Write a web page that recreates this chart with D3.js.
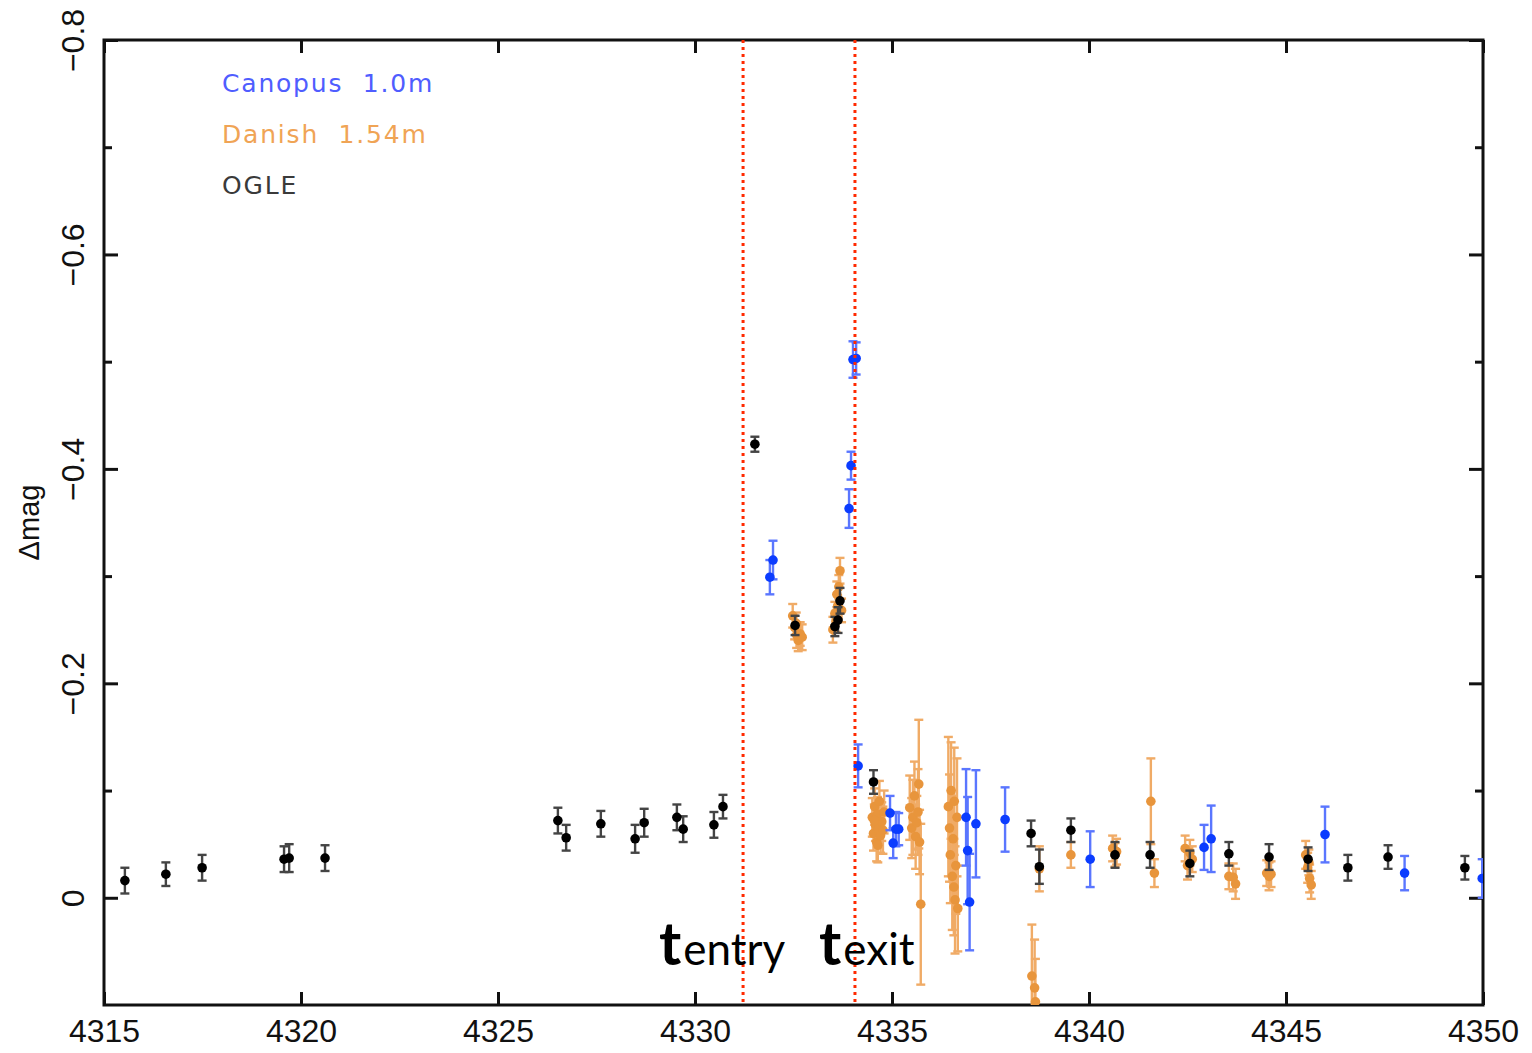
<!DOCTYPE html>
<html>
<head>
<meta charset="utf-8">
<script src="https://cdn.jsdelivr.net/npm/d3@7"></script>
<style>
  body { margin: 0; background: #fff; }
  svg { display: block; }
</style>
</head>
<body>
<svg id="chart" width="1532" height="1053"></svg>
<script>
// [day, delta mag, error]
var ogle = [
    [4315.53,-0.016,0.012],[4316.57,-0.022,0.011],[4317.49,-0.028,0.012],[4319.57,-0.036,0.012],
    [4319.70,-0.037,0.013],[4320.61,-0.037,0.012],[4326.52,-0.072,0.012],[4326.73,-0.056,0.012],
    [4327.61,-0.069,0.012],[4328.48,-0.055,0.013],[4328.71,-0.070,0.013],[4329.54,-0.075,0.012],
    [4329.70,-0.064,0.012],[4330.48,-0.068,0.012],[4330.71,-0.085,0.011],[4331.52,-0.423,0.007],
    [4332.54,-0.254,0.009],[4333.55,-0.253,0.009],[4333.63,-0.259,0.012],[4333.68,-0.277,0.012],
    [4334.53,-0.108,0.011],[4338.53,-0.060,0.012],[4338.74,-0.029,0.016],[4339.54,-0.063,0.011],
    [4340.66,-0.040,0.012],[4341.55,-0.040,0.012],[4342.56,-0.032,0.012],[4343.55,-0.041,0.011],
    [4344.57,-0.038,0.012],[4345.56,-0.036,0.011],[4346.57,-0.028,0.012],[4347.59,-0.038,0.011],
    [4349.54,-0.028,0.011]
];
var canopus = [
    [4331.90,-0.299,0.016],[4331.98,-0.315,0.018],[4334.01,-0.502,0.017],[4334.09,-0.503,0.015],
    [4333.96,-0.403,0.013],[4333.91,-0.363,0.018],[4334.14,-0.123,0.020],[4334.95,-0.079,0.016],
    [4335.03,-0.051,0.014],[4335.10,-0.064,0.016],[4335.17,-0.064,0.015],[4336.88,-0.075,0.045],
    [4336.92,-0.044,0.050],[4336.97,0.004,0.045],[4337.13,-0.069,0.050],[4337.87,-0.073,0.030],
    [4340.03,-0.036,0.026],[4342.92,-0.047,0.021],[4343.10,-0.055,0.031],[4345.99,-0.059,0.026],
    [4348.01,-0.023,0.016],[4349.98,-0.018,0.018]
];
var danish = [
    [4332.48,-0.263,0.011],[4332.53,-0.252,0.011],[4332.58,-0.245,0.012],[4332.62,-0.240,0.010],
    [4332.67,-0.246,0.011],[4332.72,-0.243,0.012],[4332.57,-0.256,0.010],
    [4333.50,-0.250,0.012],[4333.55,-0.265,0.011],[4333.60,-0.283,0.012],[4333.65,-0.290,0.011],
    [4333.68,-0.305,0.012],[4333.62,-0.272,0.010],[4333.72,-0.268,0.011],[4333.58,-0.258,0.010],
    [4334.50,-0.075,0.018],[4334.53,-0.060,0.016],[4334.56,-0.085,0.017],[4334.58,-0.068,0.015],
    [4334.61,-0.052,0.018],[4334.63,-0.078,0.016],[4334.66,-0.064,0.017],[4334.68,-0.090,0.019],
    [4334.71,-0.058,0.016],[4334.74,-0.071,0.018],[4334.77,-0.063,0.022],[4334.80,-0.080,0.020],
    [4334.55,-0.072,0.015],[4334.64,-0.049,0.016],
    [4335.45,-0.084,0.030],[4335.50,-0.065,0.028],[4335.53,-0.075,0.035],[4335.57,-0.095,0.032],
    [4335.60,-0.057,0.030],[4335.63,-0.070,0.025],[4335.68,-0.106,0.060],[4335.70,-0.052,0.030],
    [4335.73,0.006,0.075],[4335.66,-0.080,0.040],
    [4336.43,-0.085,0.065],[4336.46,-0.065,0.050],[4336.48,-0.040,0.045],[4336.50,-0.100,0.045],
    [4336.53,-0.020,0.050],[4336.55,-0.055,0.040],[4336.57,-0.010,0.045],[4336.60,0.002,0.050],
    [4336.62,-0.030,0.045],[4336.65,-0.075,0.055],[4336.67,0.010,0.040],[4336.58,-0.090,0.050],
    [4338.55,0.073,0.048],[4338.62,0.084,0.045],[4338.64,0.097,0.040],[4338.74,-0.027,0.021],
    [4339.54,-0.040,0.012],[4340.60,-0.046,0.012],[4340.66,-0.040,0.011],[4340.70,-0.043,0.012],
    [4341.57,-0.090,0.040],[4341.66,-0.023,0.013],
    [4342.44,-0.046,0.012],[4342.50,-0.030,0.013],[4342.56,-0.042,0.012],[4342.62,-0.036,0.012],
    [4343.55,-0.020,0.012],[4343.66,-0.019,0.013],[4343.72,-0.013,0.014],
    [4344.51,-0.023,0.012],[4344.57,-0.020,0.013],[4344.62,-0.022,0.012],
    [4345.50,-0.040,0.013],[4345.55,-0.028,0.014],[4345.60,-0.018,0.013],[4345.64,-0.012,0.013],
    [4345.58,-0.033,0.012]
];
var x_ticks = [4315, 4320, 4325, 4330, 4335, 4340, 4345, 4350];
var y_major_ticks = [-0.8, -0.6, -0.4, -0.2, 0];
var y_minor_ticks = [-0.7, -0.5, -0.3, -0.1];
var legend_labels = ['Canopus  1.0m', 'Danish  1.54m', 'OGLE'];
var t_entry = 4331.22;
var t_exit = 4334.06;

var frame = {left: 104, right: 1483, top: 40, bottom: 1005};

var svg = d3.select('#chart');
var x_scale = d3.scaleLinear().domain([4315, 4350]).range([frame.left, frame.right]);
var y_scale = d3.scaleLinear().domain([-0.8, 0.1]).range([frame.top, frame.bottom]);

draw_axes();
var clip = svg.append('clipPath').attr('id', 'plot-clip');
clip.append('rect').attr('x', frame.left).attr('y', frame.top)
    .attr('width', frame.right - frame.left).attr('height', frame.bottom - frame.top);
var plot = svg.append('g').attr('clip-path', 'url(#plot-clip)');

draw_series(plot, danish, '#f0ab66', '#e8953c', 4.8);
draw_series(plot, canopus, '#5a76ff', '#0b3cff', 4.8);
draw_series(plot, ogle, '#444', '#000', 4.8);
draw_markers(plot);
draw_legend();

function draw_axes(){
    var ax = svg.append('g').attr('class', 'axes');
    var bottom = ax.append('g').attr('transform', 'translate(0,' + frame.bottom + ')')
        .call(d3.axisBottom(x_scale).tickValues(x_ticks).tickSize(-13).tickPadding(14).tickFormat(d3.format('d')));
    var top = ax.append('g').attr('transform', 'translate(0,' + frame.top + ')')
        .call(d3.axisTop(x_scale).tickValues(x_ticks).tickSize(-13).tickFormat(''));
    var left = ax.append('g').attr('transform', 'translate(' + frame.left + ',0)')
        .call(d3.axisLeft(y_scale).tickValues(y_major_ticks).tickSize(-14)
              .tickFormat(function(t){ return t === 0 ? '0' : d3.format('.1f')(t).replace('-', '\u2212'); }));
    var left_minor = ax.append('g').attr('transform', 'translate(' + frame.left + ',0)')
        .call(d3.axisLeft(y_scale).tickValues(y_minor_ticks).tickSize(-8).tickFormat(''));
    var right = ax.append('g').attr('transform', 'translate(' + frame.right + ',0)')
        .call(d3.axisRight(y_scale).tickValues(y_major_ticks).tickSize(-14).tickFormat(''));
    var right_minor = ax.append('g').attr('transform', 'translate(' + frame.right + ',0)')
        .call(d3.axisRight(y_scale).tickValues(y_minor_ticks).tickSize(-8).tickFormat(''));

    ax.selectAll('.domain').remove();
    ax.selectAll('.tick line').attr('stroke', '#111').attr('stroke-width', 3);
    ax.selectAll('text').attr('fill', '#111')
        .style('font-family', '"Liberation Sans Narrow", "Liberation Sans", Arial, sans-serif')
        .style('font-size', '32px');
    bottom.selectAll('text').attr('dy', '0.72em');
    left.selectAll('text')
        .attr('transform', 'rotate(-90)')
        .attr('x', 0).attr('y', -20).attr('dy', 0)
        .style('text-anchor', 'middle')
        .style('font-family', '"Liberation Sans", Arial, sans-serif');

    ax.append('rect')
        .attr('x', frame.left).attr('y', frame.top)
        .attr('width', frame.right - frame.left).attr('height', frame.bottom - frame.top)
        .attr('fill', 'none').attr('stroke', '#111').attr('stroke-width', 3);

    ax.append('text')
        .attr('transform', 'translate(39,' + y_scale(-0.35) + ') rotate(-90)')
        .attr('text-anchor', 'middle')
        .style('font-family', '"Liberation Sans", Arial, sans-serif')
        .style('font-size', '29px')
        .attr('fill', '#111')
        .text('\u0394mag');
}

function draw_series(g, data, bar_colour, dot_colour, r){
    var s = g.append('g');
    var cap = 4.5;
    var bars = s.selectAll('.err').data(data).enter().append('g').attr('class', 'err')
        .attr('stroke', bar_colour).attr('stroke-width', 2.4);
    bars.append('line')
        .attr('x1', function(d){ return x_scale(d[0]); })
        .attr('x2', function(d){ return x_scale(d[0]); })
        .attr('y1', function(d){ return y_scale(d[1] - d[2]); })
        .attr('y2', function(d){ return y_scale(d[1] + d[2]); });
    bars.append('line')
        .attr('x1', function(d){ return x_scale(d[0]) - cap; })
        .attr('x2', function(d){ return x_scale(d[0]) + cap; })
        .attr('y1', function(d){ return y_scale(d[1] - d[2]); })
        .attr('y2', function(d){ return y_scale(d[1] - d[2]); });
    bars.append('line')
        .attr('x1', function(d){ return x_scale(d[0]) - cap; })
        .attr('x2', function(d){ return x_scale(d[0]) + cap; })
        .attr('y1', function(d){ return y_scale(d[1] + d[2]); })
        .attr('y2', function(d){ return y_scale(d[1] + d[2]); });
    s.selectAll('.dot').data(data).enter().append('circle').attr('class', 'dot')
        .attr('cx', function(d){ return x_scale(d[0]); })
        .attr('cy', function(d){ return y_scale(d[1]); })
        .attr('r', r)
        .attr('fill', dot_colour);
}

function draw_markers(g){
    [t_entry, t_exit].forEach(function(t){
        g.append('line')
            .attr('x1', x_scale(t)).attr('x2', x_scale(t))
            .attr('y1', frame.top).attr('y2', frame.bottom)
            .attr('stroke', '#ff2a00').attr('stroke-width', 3)
            .attr('stroke-dasharray', '3,4');
    });
    var labels = [{x: 659, sub: 'entry'}, {x: 819, sub: 'exit'}];
    labels.forEach(function(l){
        var txt = svg.append('text')
            .attr('x', l.x).attr('y', 965)
            .attr('fill', '#000')
            .style('font-family', 'Lato, "Open Sans", sans-serif');
        txt.append('tspan').style('font-size', '60px').style('font-weight', 'bold').text('t');
        txt.append('tspan').attr('dx', 2).style('font-size', '44px').text(l.sub);
    });
}

function draw_legend(){
    var colours = ['#4f5dff', '#f0a455', '#3a3a3a'];
    svg.selectAll('.legend').data(legend_labels).enter().append('text').attr('class', 'legend')
        .attr('x', 222)
        .attr('y', function(d, i){ return 92 + i * 51; })
        .attr('fill', function(d, i){ return colours[i]; })
        .style('font-family', '"DejaVu Sans", sans-serif')
        .style('font-size', '25px')
        .style('white-space', 'pre')
        .style('letter-spacing', '1.8px')
        .text(function(d){ return d; });
}
</script>
</body>
</html>
